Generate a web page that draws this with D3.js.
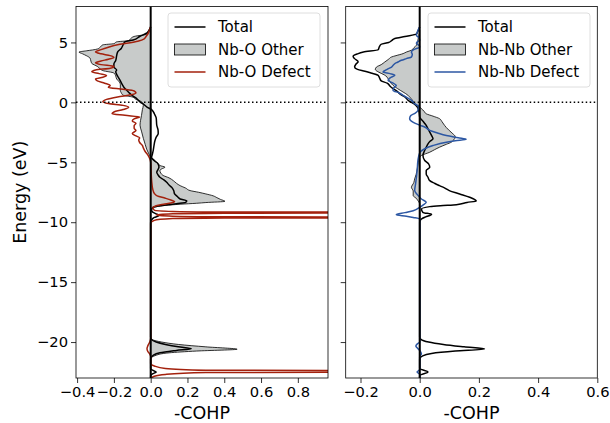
<!DOCTYPE html>
<html>
<head>
<meta charset="utf-8">
<script src="https://cdnjs.cloudflare.com/ajax/libs/d3/7.8.5/d3.min.js"></script>
<style>
  body { margin: 0; background: #fff; }
  text { font-family: "DejaVu Sans", sans-serif; }
</style>
</head>
<body>
<div class="d3"></div>
<script>
// energy (eV), -COHP pairs
const leftTotal = [
  [6.3,0],[6.0,-0.01],[5.8,-0.02],[5.5,-0.06],[5.2,-0.095],[5.05,-0.14],[4.8,-0.15],[4.5,-0.16],
  [4.2,-0.18],[3.9,-0.185],[3.5,-0.19],[3.2,-0.2],[2.95,-0.2],[2.7,-0.185],[2.55,-0.19],[2.2,-0.18],
  [1.85,-0.167],[1.5,-0.155],[1.15,-0.14],[0.85,-0.12],[0.6,-0.103],[0.3,-0.075],[0.03,-0.058],
  [-0.2,-0.035],[-0.4,-0.02],[-0.6,0.005],[-0.95,0.02],[-1.3,0.03],[-1.9,0.033],[-2.3,0.04],
  [-2.6,0.041],[-2.9,0.03],[-3.2,0.023],[-3.6,0.018],[-4.0,0.014],[-4.4,0.008],[-4.6,0.005],
  [-4.85,0.02],[-5.13,0.04],[-5.4,0.045],[-5.6,0.04],[-5.83,0.033],[-6.05,0.04],[-6.25,0.05],
  [-6.45,0.07],[-6.67,0.087],[-6.9,0.1],[-7.08,0.114],[-7.35,0.125],[-7.64,0.13],[-7.85,0.145],
  [-8.06,0.16],[-8.22,0.196],[-8.34,0.19],[-8.45,0.14],[-8.55,0.09],[-8.65,0.04],[-8.8,0.01],
  [-9.0,0.005],[-9.15,0.01],[-9.3,0.03],[-9.45,0.045],[-9.6,0.02],[-9.8,0.005],[-10,0],
  [-19.6,0],[-19.8,0.005],[-20.0,0.03],[-20.2,0.08],[-20.4,0.15],[-20.55,0.22],[-20.7,0.14],
  [-20.9,0.05],[-21.1,0.015],[-21.4,0],[-22.2,0],[-22.35,0.01],[-22.5,0.03],[-22.65,0.01],
  [-22.8,0],[-23,0]
];
const leftOther = [
  [6.3,0],[6.1,-0.005],[5.9,-0.015],[5.7,-0.02],[5.5,-0.09],[5.3,-0.11],[5.15,-0.12],[5.05,-0.185],
  [4.9,-0.2],[4.8,-0.26],[4.6,-0.275],[4.45,-0.29],[4.3,-0.35],[4.2,-0.39],[4.05,-0.37],[3.9,-0.35],
  [3.7,-0.33],[3.45,-0.325],[3.25,-0.32],[3.0,-0.29],[2.8,-0.275],[2.65,-0.26],[2.45,-0.2],
  [2.2,-0.19],[1.95,-0.185],[1.7,-0.17],[1.5,-0.165],[1.2,-0.165],[1.0,-0.165],[0.8,-0.16],
  [0.6,-0.15],[0.45,-0.1],[0.25,-0.08],[0.05,-0.05],[-0.25,-0.04],[-0.6,-0.045],[-1.1,-0.05],
  [-1.5,-0.055],[-1.9,-0.058],[-2.4,-0.05],[-3.0,-0.04],[-3.5,-0.03],[-3.9,-0.022],[-4.3,-0.01],
  [-4.6,0],[-4.85,0.014],[-5.1,0.04],[-5.27,0.05],[-5.41,0.078],[-5.55,0.06],[-5.69,0.05],
  [-5.9,0.055],[-6.1,0.068],[-6.3,0.1],[-6.53,0.123],[-6.75,0.14],[-6.95,0.16],[-7.15,0.19],
  [-7.36,0.214],[-7.5,0.26],[-7.64,0.3],[-7.8,0.34],[-7.95,0.36],[-8.1,0.38],[-8.26,0.404],
  [-8.36,0.3],[-8.42,0.25],[-8.5,0.16],[-8.6,0.08],[-8.7,0.033],[-8.85,0.005],[-9.0,0],
  [-19.6,0],[-19.8,0.01],[-20.0,0.06],[-20.2,0.15],[-20.4,0.3],[-20.6,0.47],[-20.75,0.25],
  [-20.9,0.1],[-21.1,0.03],[-21.4,0],[-23,0]
];
const leftDefect = [
  [6.3,0],[6.1,-0.005],[5.8,-0.012],[5.5,-0.025],[5.3,-0.035],[5.1,-0.07],[4.95,-0.12],[4.8,-0.18],
  [4.6,-0.23],[4.4,-0.27],[4.2,-0.3],[4.05,-0.27],[3.9,-0.22],[3.75,-0.2],[3.6,-0.23],[3.45,-0.27],
  [3.3,-0.3],[3.15,-0.27],[3.0,-0.2],[2.85,-0.22],[2.7,-0.3],[2.55,-0.32],[2.4,-0.28],[2.25,-0.24],
  [2.1,-0.26],[1.95,-0.3],[1.8,-0.29],[1.6,-0.25],[1.4,-0.22],[1.25,-0.23],[1.1,-0.15],[0.95,-0.09],
  [0.8,-0.08],[0.65,-0.1],[0.45,-0.18],[0.25,-0.24],[0.05,-0.26],[-0.1,-0.23],[-0.25,-0.15],
  [-0.4,-0.12],[-0.6,-0.15],[-0.8,-0.2],[-0.95,-0.21],[-1.08,-0.14],[-1.22,-0.06],[-1.38,-0.09],
  [-1.55,-0.1],[-1.75,-0.08],[-1.95,-0.09],[-2.15,-0.09],[-2.35,-0.08],[-2.6,-0.1],[-2.8,-0.08],
  [-2.95,-0.06],[-3.15,-0.065],[-3.35,-0.06],[-3.6,-0.045],[-3.8,-0.04],[-4.1,-0.03],[-4.4,-0.015],
  [-4.7,-0.005],[-5.0,0],[-6.5,0.005],[-7.3,0.012],[-7.6,0.02],[-7.8,0.035],[-8.0,0.08],[-8.15,0.11],
  [-8.28,0.13],[-8.4,0.11],[-8.5,0.07],[-8.62,0.03],[-8.8,0.012],[-9.0,0.02],[-9.1,0.12],
  [-9.15,0.4],[-9.2,4],[-9.25,0.4],[-9.3,0.12],[-9.4,0.03],[-9.5,0.12],[-9.55,0.4],[-9.6,4],
  [-9.65,0.4],[-9.7,0.12],[-9.85,0.02],[-10.1,0],[-19.7,0],[-20.0,-0.005],[-20.3,-0.015],
  [-20.55,-0.02],[-20.8,-0.015],[-21.0,-0.005],[-21.2,0],[-21.8,0],[-22.0,0.02],[-22.2,0.08],
  [-22.35,0.3],[-22.45,4],[-22.55,0.3],[-22.7,0.08],[-22.85,0.02],[-23,0.005]
];
const rightTotal = [
  [6.3,0],[6.0,-0.005],[5.7,-0.011],[5.5,-0.05],[5.33,-0.084],[5.15,-0.095],[5.0,-0.105],
  [4.85,-0.13],[4.6,-0.137],[4.4,-0.14],[4.2,-0.19],[4.05,-0.21],[3.85,-0.225],[3.65,-0.22],
  [3.4,-0.208],[3.2,-0.215],[2.95,-0.22],[2.75,-0.21],[2.6,-0.185],[2.45,-0.165],[2.25,-0.14],
  [2.0,-0.135],[1.8,-0.13],[1.6,-0.11],[1.35,-0.1],[1.15,-0.09],[0.9,-0.075],[0.7,-0.067],
  [0.45,-0.05],[0.17,-0.039],[-0.1,-0.02],[-0.39,-0.008],[-0.8,-0.002],[-1.23,0],[-1.6,0.012],
  [-1.92,0.022],[-2.2,0.028],[-2.48,0.034],[-2.75,0.04],[-3.04,0.045],[-3.25,0.035],[-3.46,0.028],
  [-3.75,0.022],[-4.0,0.017],[-4.43,0.011],[-4.85,0.017],[-5.13,0.03],[-5.41,0.034],[-5.69,0.022],
  [-5.97,0.022],[-6.25,0.028],[-6.53,0.034],[-6.75,0.05],[-6.95,0.067],[-7.15,0.085],[-7.36,0.1],
  [-7.64,0.135],[-7.92,0.169],[-8.1,0.185],[-8.22,0.191],[-8.35,0.16],[-8.54,0.124],[-8.62,0.07],
  [-8.7,0.034],[-8.9,0.006],[-9.18,0.011],[-9.35,0.04],[-9.55,0.02],[-9.73,0.006],[-10,0],
  [-19.6,0],[-19.8,0.005],[-20.0,0.03],[-20.2,0.08],[-20.4,0.15],[-20.58,0.219],[-20.75,0.12],
  [-20.95,0.04],[-21.15,0.01],[-21.4,0],[-22.2,0],[-22.5,0.028],[-22.8,0],[-23,0]
];
const rightOther = [
  [6.0,0],[5.6,-0.003],[5.2,-0.006],[4.77,-0.011],[4.55,-0.02],[4.35,-0.028],[4.2,-0.045],
  [4.07,-0.056],[3.9,-0.08],[3.79,-0.095],[3.6,-0.105],[3.37,-0.118],[3.15,-0.13],[2.95,-0.146],
  [2.75,-0.15],[2.54,-0.14],[2.3,-0.12],[2.1,-0.11],[1.98,-0.107],[1.7,-0.1],[1.42,-0.09],
  [1.15,-0.075],[0.86,-0.056],[0.6,-0.04],[0.45,-0.034],[0.2,-0.025],[-0.11,-0.017],[-0.3,-0.005],
  [-0.5,0.005],[-0.75,0.015],[-0.95,0.022],[-1.15,0.045],[-1.36,0.067],[-1.6,0.075],[-1.92,0.084],
  [-2.1,0.09],[-2.35,0.1],[-2.62,0.112],[-2.85,0.12],[-3.04,0.118],[-3.2,0.112],[-3.32,0.107],
  [-3.5,0.09],[-3.74,0.067],[-3.95,0.05],[-4.16,0.034],[-4.43,0.006],[-4.7,-0.003],[-5.0,-0.005],
  [-5.5,-0.008],[-6.0,-0.012],[-6.39,-0.017],[-6.7,-0.02],[-7.09,-0.028],[-7.4,-0.022],
  [-7.78,-0.022],[-8.0,-0.012],[-8.2,-0.006],[-8.5,0],[-23,0]
];
const rightDefect = [
  [6.3,0],[6.0,-0.006],[5.6,-0.011],[5.4,-0.003],[5.19,0],[5.05,-0.008],[4.91,-0.011],[4.75,-0.002],
  [4.63,0],[4.4,-0.02],[4.21,-0.028],[4.0,-0.025],[3.79,-0.028],[3.65,-0.045],[3.51,-0.062],
  [3.35,-0.075],[3.24,-0.084],[2.95,-0.095],[2.75,-0.11],[2.54,-0.124],[2.4,-0.1],[2.26,-0.084],
  [2.05,-0.1],[1.84,-0.107],[1.6,-0.09],[1.42,-0.079],[1.2,-0.088],[1.0,-0.09],[0.8,-0.07],
  [0.59,-0.056],[0.35,-0.04],[0.17,-0.028],[-0.11,-0.017],[-0.35,-0.004],[-0.67,-0.006],
  [-0.9,-0.015],[-1.1,-0.03],[-1.36,-0.034],[-1.65,-0.023],[-1.9,0],[-2.1,0.02],[-2.34,0.034],
  [-2.55,0.06],[-2.76,0.09],[-2.95,0.13],[-3.08,0.157],[-3.2,0.12],[-3.32,0.09],[-3.6,0.045],
  [-3.87,0.017],[-4.2,0],[-4.85,-0.006],[-5.5,-0.008],[-6.25,-0.011],[-6.8,-0.014],[-7.36,-0.017],
  [-7.7,-0.008],[-8.06,0.006],[-8.34,0.022],[-8.55,0.012],[-8.76,0],[-9.04,-0.022],[-9.2,-0.05],
  [-9.37,-0.079],[-9.5,-0.045],[-9.6,-0.022],[-9.73,0],[-10,0],[-20,0],[-20.15,-0.008],
  [-20.33,-0.013],[-20.5,-0.008],[-20.7,0],[-21.0,0.006],[-21.2,0],[-22.3,0],[-22.5,-0.009],
  [-22.7,0],[-23,0]
];

const energyTicks = [5, 0, -5, -10, -15, -20];
const leftCohpTicks = [-0.4, -0.2, 0.0, 0.2, 0.4, 0.6, 0.8];
const rightCohpTicks = [-0.2, 0.0, 0.2, 0.4, 0.6];
const leftLabels = ['Total', 'Nb-O Other', 'Nb-O Defect'];
const rightLabels = ['Total', 'Nb-Nb Other', 'Nb-Nb Defect'];

const width = 610;
const height = 423;
const plotTop = 6.5;
const plotBottom = 378;
const grayFill = '#c8cbca';

let svg = d3
  .select('.d3')
  .append('svg')
  .attr('width', width)
  .attr('height', height);

let y = d3.scaleLinear().domain([-23, 8]).range([plotBottom, plotTop]);

function drawPanel(opts) {
  let x = d3.scaleLinear().domain(opts.domain).range(opts.range);
  let g = svg.append('g');

  g.append('clipPath')
    .attr('id', opts.id)
    .append('rect')
    .attr('x', opts.range[0])
    .attr('y', plotTop)
    .attr('width', opts.range[1] - opts.range[0])
    .attr('height', plotBottom - plotTop);

  let plot = g.append('g').attr('clip-path', `url(#${opts.id})`);

  let sorted = arr => arr.slice().sort((a, b) => a[0] - b[0]);

  let area = d3.area()
    .y(d => y(d[0]))
    .x0(x(0))
    .x1(d => x(d[1]))
    .curve(d3.curveMonotoneY);

  let line = d3.line()
    .y(d => y(d[0]))
    .x(d => x(d[1]))
    .curve(d3.curveMonotoneY);

  plot.append('path')
    .attr('d', area(sorted(opts.other)))
    .attr('fill', grayFill)
    .attr('stroke', '#000')
    .attr('stroke-width', 0.8);

  plot.append('path')
    .attr('d', line(sorted(opts.total)))
    .attr('fill', 'none')
    .attr('stroke', '#000')
    .attr('stroke-width', 1.5);

  plot.append('path')
    .attr('d', line(sorted(opts.defect)))
    .attr('fill', 'none')
    .attr('stroke', opts.color)
    .attr('stroke-width', 1.5);

  // fermi level and zero line
  plot.append('line')
    .attr('x1', opts.range[0]).attr('x2', opts.range[1])
    .attr('y1', y(0)).attr('y2', y(0))
    .attr('stroke', '#000')
    .attr('stroke-width', 1.5)
    .attr('stroke-dasharray', '1.5,2.5');

  plot.append('line')
    .attr('x1', x(0)).attr('x2', x(0))
    .attr('y1', plotTop).attr('y2', plotBottom)
    .attr('stroke', '#000')
    .attr('stroke-width', 2);

  // axes
  let xAxis = d3.axisBottom(x)
    .tickValues(opts.ticks)
    .tickFormat(d3.format('.1f'))
    .tickSize(5)
    .tickPadding(3.5);
  let xg = g.append('g').attr('transform', `translate(0,${plotBottom})`).call(xAxis);

  let yAxis = d3.axisLeft(y)
    .tickValues(energyTicks)
    .tickFormat(opts.yLabels ? d3.format('d') : '')
    .tickSize(5)
    .tickPadding(3);
  let yg = g.append('g').attr('transform', `translate(${opts.range[0]},0)`).call(yAxis);

  [xg, yg].forEach(a => {
    a.select('.domain').remove();
    a.selectAll('line').attr('stroke', '#000').attr('stroke-width', 0.8);
    a.selectAll('text')
      .attr('fill', '#000')
      .style('font-size', '14.7px')
      .style('font-family', '"DejaVu Sans"');
  });

  g.append('rect')
    .attr('x', opts.range[0])
    .attr('y', plotTop)
    .attr('width', opts.range[1] - opts.range[0])
    .attr('height', plotBottom - plotTop)
    .attr('fill', 'none')
    .attr('stroke', '#000')
    .attr('stroke-width', 0.8);

  g.append('text')
    .attr('x', (opts.range[0] + opts.range[1]) / 2)
    .attr('y', 418.5)
    .attr('text-anchor', 'middle')
    .style('font-size', '17.5px')
    .text('-COHP');

  // legend
  let lg = g.append('g').attr('transform', `translate(${opts.legendX},13)`);
  lg.append('rect')
    .attr('width', opts.legendW)
    .attr('height', 74)
    .attr('rx', 3)
    .attr('fill', '#fff')
    .attr('fill-opacity', 0.8)
    .attr('stroke', '#d5d5d5')
    .attr('stroke-width', 0.8);

  let rows = lg.selectAll('.row')
    .data(opts.labels)
    .enter()
    .append('g')
    .attr('class', 'row')
    .attr('transform', (d, i) => `translate(0,${14 + i * 22.5})`);

  rows.each(function(d, i) {
    let r = d3.select(this);
    if (i === 1) {
      r.append('rect')
        .attr('x', 6.5).attr('y', -5.5)
        .attr('width', 31).attr('height', 11)
        .attr('fill', grayFill)
        .attr('stroke', '#000')
        .attr('stroke-width', 0.8);
    } else {
      r.append('line')
        .attr('x1', 6.5).attr('x2', 37.5)
        .attr('stroke', i === 0 ? '#000' : opts.color)
        .attr('stroke-width', 1.5);
    }
    r.append('text')
      .attr('x', 50)
      .attr('dy', '0.36em')
      .style('font-size', '15px')
      .text(d);
  });
}

drawPanel({
  id: 'clipL',
  range: [76, 328],
  domain: [-0.406, 0.964],
  ticks: leftCohpTicks,
  total: leftTotal,
  other: leftOther,
  defect: leftDefect,
  color: '#a3210d',
  labels: leftLabels,
  yLabels: true,
  legendX: 168,
  legendW: 152
});

drawPanel({
  id: 'clipR',
  range: [345.7, 597.3],
  domain: [-0.25, 0.6],
  ticks: rightCohpTicks,
  total: rightTotal,
  other: rightOther,
  defect: rightDefect,
  color: '#2c57a3',
  labels: rightLabels,
  yLabels: false,
  legendX: 428,
  legendW: 162
});

svg.append('text')
  .attr('transform', `translate(26,${(plotTop + plotBottom) / 2}) rotate(-90)`)
  .attr('text-anchor', 'middle')
  .style('font-size', '17.5px')
  .text('Energy (eV)');
</script>
</body>
</html>
